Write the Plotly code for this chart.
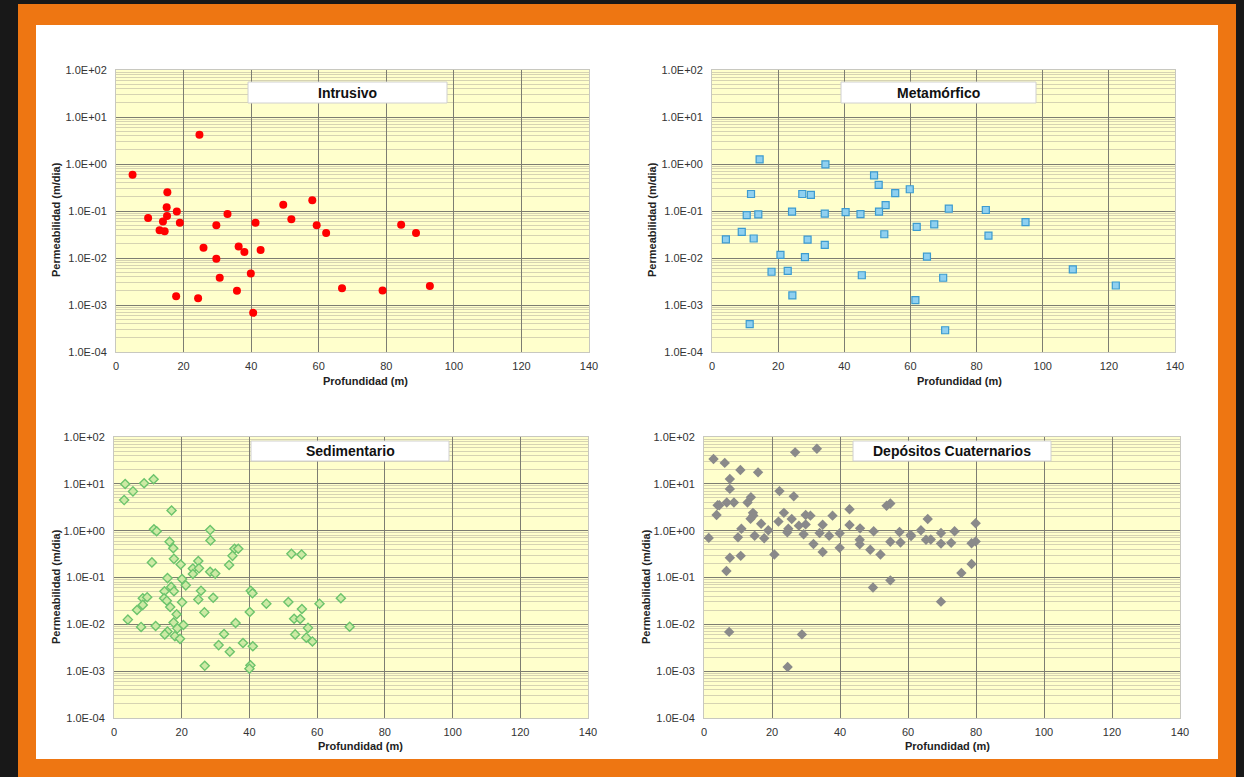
import plotly.graph_objects as go

W, H = 1244, 777

# ---- data: depth (m) and permeability (m/dia) per lithology ----
intrusivo_x = [4.9, 24.7, 15.2, 15.0, 9.5, 13.9, 15.1, 18.0, 18.9, 12.9, 14.4, 33.0, 29.7, 41.3,
               49.5, 51.9, 58.1, 59.4, 62.2, 84.4, 88.8, 25.9, 36.3, 38.0, 42.8, 29.7, 30.7, 39.9,
               35.8, 66.9, 78.9, 92.9, 17.8, 24.3, 40.6]
intrusivo_y = [0.59, 4.2, 0.25, 0.12, 0.071, 0.060, 0.078, 0.097, 0.056, 0.039, 0.037, 0.086, 0.050,
               0.056, 0.136, 0.067, 0.17, 0.050, 0.034, 0.051, 0.034, 0.0166, 0.0175, 0.0134, 0.0148,
               0.0096, 0.0038, 0.0047, 0.0020, 0.00228, 0.00203, 0.00255, 0.00154, 0.0014, 0.00068]

metamorfico_x = [14.4, 34.3, 49.0, 50.4, 59.8, 11.8, 27.3, 29.9, 55.4, 52.5, 71.6, 82.8, 10.5, 14.0,
                 24.2, 34.1, 40.4, 44.9, 50.5, 67.2, 94.8, 61.9, 9.0, 52.1, 83.6, 4.2, 12.6, 28.9,
                 34.1, 20.7, 28.1, 65.0, 18.0, 22.9, 45.3, 69.9, 109.1, 122.1, 24.3, 61.5, 11.4, 70.5]
metamorfico_y = [1.25, 0.98, 0.57, 0.36, 0.29, 0.23, 0.23, 0.22, 0.24, 0.134, 0.112, 0.105, 0.082,
                 0.085, 0.097, 0.088, 0.095, 0.086, 0.097, 0.052, 0.058, 0.046, 0.036, 0.032, 0.030,
                 0.025, 0.026, 0.0246, 0.019, 0.0116, 0.0104, 0.0107, 0.0051, 0.0053, 0.0043, 0.0038,
                 0.0057, 0.0026, 0.0016, 0.00127, 0.00039, 0.00029]

sedimentario_x = [3.3, 8.9, 11.7, 5.6, 3.0, 17.0, 11.8, 12.6, 28.4, 28.5, 16.4, 17.5, 35.6, 36.7,
                  35.0, 52.4, 55.4, 17.7, 11.2, 24.9, 19.7, 34.0, 23.3, 25.1, 23.3, 28.4, 29.9, 15.8,
                  20.1, 21.2, 16.9, 14.9, 17.7, 25.7, 40.4, 40.9, 8.5, 9.8, 14.8, 15.6, 24.9, 29.3,
                  67.0, 20.1, 51.5, 60.7, 45.0, 8.5, 16.6, 55.5, 6.8, 40.1, 26.7, 18.5, 4.1, 53.2,
                  55.0, 17.6, 35.9, 20.5, 12.3, 8.0, 18.7, 57.3, 69.6, 15.8, 15.0, 32.5, 53.5, 18.0,
                  56.8, 19.5, 58.6, 38.1, 30.9, 41.0, 34.2, 26.8, 40.3, 40.0]
sedimentario_y = [9.9, 10.3, 12.5, 6.9, 4.5, 2.7, 1.07, 0.97, 1.03, 0.62, 0.58, 0.42, 0.41, 0.41,
                  0.29, 0.32, 0.31, 0.25, 0.21, 0.225, 0.19, 0.185, 0.155, 0.157, 0.119, 0.133, 0.121,
                  0.097, 0.093, 0.068, 0.063, 0.051, 0.051, 0.052, 0.052, 0.046, 0.036, 0.038, 0.036,
                  0.032, 0.034, 0.037, 0.036, 0.0295, 0.030, 0.0276, 0.0276, 0.026, 0.0234, 0.0212,
                  0.0202, 0.0183, 0.018, 0.0164, 0.0126, 0.0132, 0.013, 0.0109, 0.0107, 0.0097, 0.0092,
                  0.0088, 0.0082, 0.0084, 0.0089, 0.0070, 0.0061, 0.0062, 0.0061, 0.0056, 0.0052,
                  0.0049, 0.0043, 0.0040, 0.0036, 0.0034, 0.0026, 0.0013, 0.00133, 0.00113]

cuaternario_x = [2.8, 6.1, 26.8, 33.2, 10.7, 15.9, 7.6, 7.6, 22.2, 26.4, 13.8, 6.7, 8.8, 12.8, 4.0,
                 4.5, 53.7, 54.8, 42.8, 23.5, 14.4, 3.7, 14.5, 29.9, 31.3, 37.8, 65.8, 25.8, 13.7,
                 21.9, 16.8, 79.9, 34.9, 42.8, 27.9, 29.9, 11.0, 45.9, 24.8, 18.9, 63.8, 49.9, 57.5,
                 73.7, 24.5, 34.0, 39.9, 69.7, 29.3, 14.9, 36.8, 60.8, 60.9, 10.0, 1.4, 17.7, 65.3,
                 66.7, 45.8, 54.8, 57.8, 72.7, 79.9, 78.7, 32.2, 45.8, 69.7, 39.9, 48.9, 34.9, 20.7,
                 51.9, 10.8, 7.6, 78.7, 6.6, 75.7, 54.8, 49.7, 69.7, 7.4, 28.8, 24.6]
cuaternario_y = [34, 28, 47, 56, 19.7, 17.6, 12.7, 7.8, 7.0, 5.4, 5.2, 4.0, 4.0, 4.0, 3.5, 3.5, 3.4,
                 3.8, 2.86, 2.4, 2.4, 2.16, 2.1, 2.16, 2.09, 2.09, 1.77, 1.77, 1.8, 1.56, 1.41, 1.44,
                 1.34, 1.32, 1.28, 1.36, 1.1, 1.12, 1.1, 1.02, 1.02, 0.97, 0.94, 0.97, 0.92, 0.89,
                 0.88, 0.89, 0.84, 0.78, 0.78, 0.81, 0.77, 0.72, 0.70, 0.69, 0.64, 0.65, 0.64, 0.58,
                 0.56, 0.55, 0.59, 0.54, 0.52, 0.51, 0.53, 0.43, 0.39, 0.35, 0.31, 0.31, 0.29, 0.265,
                 0.194, 0.138, 0.125, 0.087, 0.061, 0.0305, 0.0069, 0.0061, 0.00123]

panel_titles = ["Intrusivo", "Metamórfico", "Sedimentario", "Depósitos Cuaternarios"]
y_tickvals = [1e-4, 1e-3, 1e-2, 1e-1, 1e0, 1e1, 1e2]
y_ticktext = ["1.0E-04", "1.0E-03", "1.0E-02", "1.0E-01", "1.0E+00", "1.0E+01", "1.0E+02"]
x_tickvals = [0, 20, 40, 60, 80, 100, 120, 140]
y_minor = [m * 10.0 ** e for e in range(-4, 2) for m in range(2, 10)]

# ---- layout geometry in pixels (left, right, top, bottom) ----
plot_boxes = [(116, 589, 70, 352), (712, 1175, 70, 352),
              (114, 588, 437, 718), (704, 1180, 437, 718)]
title_boxes = [(248, 447, 82, 103), (841, 1036, 82, 103),
               (251, 449, 441, 461), (853, 1051, 441, 461)]
xtitle_pos = [(365, 381), (960, 381), (360, 746), (947, 746)]
ytitle_pos = [(56, 220), (652, 220), (56, 587), (646, 587)]

series = [
    (intrusivo_x, intrusivo_y, dict(symbol="circle", size=8, color="#ff0000",
                                    line=dict(width=0))),
    (metamorfico_x, metamorfico_y, dict(symbol="square", size=7, color="#8fd0f0",
                                        line=dict(width=1.2, color="#3c9bd0"))),
    (sedimentario_x, sedimentario_y, dict(symbol="diamond", size=7, color="#cdeaa4",
                                          line=dict(width=1.4, color="#6cc46c"))),
    (cuaternario_x, cuaternario_y, dict(symbol="diamond", size=8, color="#8a8a8a",
                                        line=dict(width=0))),
]

fig = go.Figure()

def px_x(p):
    return p / W

def px_y(p):
    return 1 - p / H

font_main = "Liberation Sans, Arial, sans-serif"

for i, ((xs, ys, mk), (l, r, t, b)) in enumerate(zip(series, plot_boxes)):
    n = "" if i == 0 else str(i + 1)
    fig.add_trace(go.Scatter(x=xs, y=ys, mode="markers", marker=mk,
                             xaxis="x" + n, yaxis="y" + n, showlegend=False,
                             hoverinfo="x+y"))
    fig.update_layout(**{
        "xaxis" + n: dict(
            domain=[px_x(l), px_x(r)], anchor="y" + n, range=[0, 140],
            tickvals=x_tickvals, showgrid=True, gridcolor="#7d7d72", gridwidth=1,
            zeroline=False, showline=True, linecolor="#c8c8c0", mirror=True,
            ticks="outside", ticklen=4, tickcolor="rgba(0,0,0,0)", automargin=False,
            tickfont=dict(family=font_main, size=11, color="#333333"),
        ),
        "yaxis" + n: dict(
            domain=[px_y(b), px_y(t)], anchor="x" + n, type="log", range=[-4, 2],
            tickvals=y_tickvals, ticktext=y_ticktext, showgrid=True,
            gridcolor="#7d7d72", gridwidth=1, zeroline=False, showline=True,
            linecolor="#c8c8c0", mirror=True, ticks="outside", ticklen=6,
            tickcolor="rgba(0,0,0,0)", automargin=False,
            tickfont=dict(family=font_main, size=11, color="#333333"),
            minor=dict(tickvals=y_minor, showgrid=True, gridcolor="#d6d3b2",
                       gridwidth=1, ticks=""),
        ),
    })

shapes = [
    # orange frame and white card
    dict(type="rect", xref="paper", yref="paper", x0=px_x(18), x1=px_x(1236),
         y0=0, y1=px_y(4), fillcolor="#ee7612", line=dict(width=0), layer="below"),
    dict(type="rect", xref="paper", yref="paper", x0=px_x(36), x1=px_x(1218),
         y0=px_y(759), y1=px_y(25), fillcolor="#ffffff", line=dict(width=0), layer="below"),
]
for (l, r, t, b) in plot_boxes:
    shapes.append(dict(type="rect", xref="paper", yref="paper", x0=px_x(l), x1=px_x(r),
                       y0=px_y(b), y1=px_y(t), fillcolor="#ffffcc", line=dict(width=0),
                       layer="below"))

annotations = []
for name, (l, r, t, b) in zip(panel_titles, title_boxes):
    shapes.append(dict(type="rect", xref="paper", yref="paper", x0=px_x(l), x1=px_x(r),
                       y0=px_y(b), y1=px_y(t), fillcolor="#ffffff",
                       line=dict(width=1, color="#d0d0d0"), layer="above"))
    annotations.append(dict(text="<b>%s</b>" % name, xref="paper", yref="paper",
                            x=px_x((l + r) / 2), y=px_y((t + b) / 2), showarrow=False,
                            xanchor="center", yanchor="middle",
                            font=dict(family=font_main, size=14, color="#111111")))
for (x, y) in xtitle_pos:
    annotations.append(dict(text="<b>Profundidad (m)</b>", xref="paper", yref="paper",
                            x=px_x(x), y=px_y(y), showarrow=False, xanchor="center",
                            yanchor="middle",
                            font=dict(family=font_main, size=11, color="#222222")))
for (x, y) in ytitle_pos:
    annotations.append(dict(text="<b>Permeabilidad (m/dia)</b>", xref="paper", yref="paper",
                            x=px_x(x), y=px_y(y), showarrow=False, xanchor="center",
                            yanchor="middle", textangle=-90,
                            font=dict(family=font_main, size=11, color="#222222")))

fig.update_layout(
    width=W, height=H, margin=dict(l=0, r=0, t=0, b=0, pad=0, autoexpand=False),
    paper_bgcolor="#181818", plot_bgcolor="rgba(0,0,0,0)",
    shapes=shapes, annotations=annotations, showlegend=False,
)

fig.write_html("out.html", config={"displayModeBar": False})
